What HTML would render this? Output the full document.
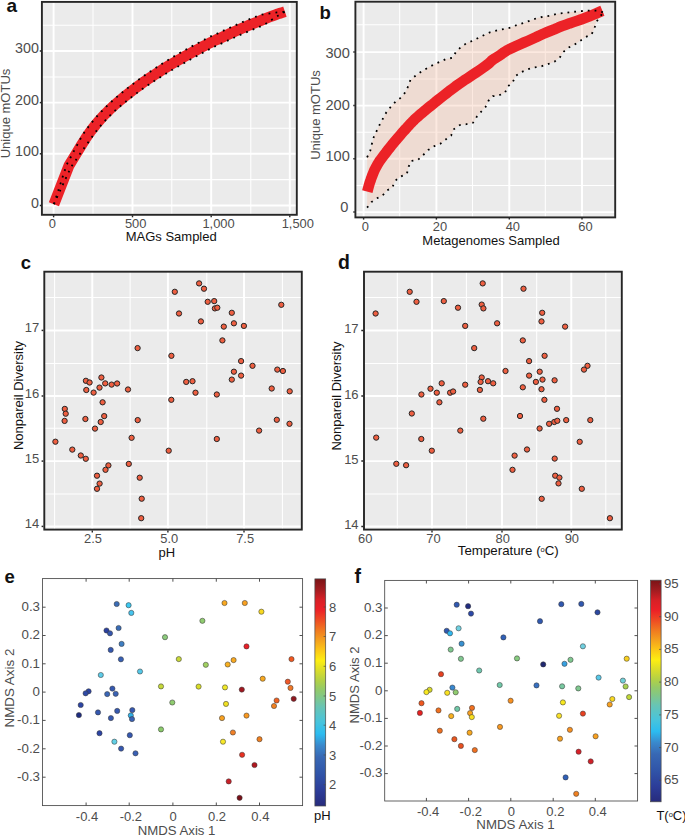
<!DOCTYPE html>
<html><head><meta charset="utf-8"><title>Figure</title>
<style>html,body{margin:0;padding:0;background:#fff;}body{width:685px;height:835px;overflow:hidden;font-family:"Liberation Sans",sans-serif;}svg{display:block;}</style>
</head><body>
<svg width="685" height="835" viewBox="0 0 685 835" font-family="Liberation Sans, sans-serif">
<rect width="685" height="835" fill="#fff"/>
<rect x="41.9" y="1.9" width="254.9" height="212.9" fill="#ebebeb"/>
<line x1="93.00" y1="1.90" x2="93.00" y2="214.80" stroke="#ffffff" stroke-width="1.05" />
<line x1="171.80" y1="1.90" x2="171.80" y2="214.80" stroke="#ffffff" stroke-width="1.05" />
<line x1="250.80" y1="1.90" x2="250.80" y2="214.80" stroke="#ffffff" stroke-width="1.05" />
<line x1="41.90" y1="179.60" x2="296.80" y2="179.60" stroke="#ffffff" stroke-width="1.05" />
<line x1="41.90" y1="128.20" x2="296.80" y2="128.20" stroke="#ffffff" stroke-width="1.05" />
<line x1="41.90" y1="77.00" x2="296.80" y2="77.00" stroke="#ffffff" stroke-width="1.05" />
<line x1="41.90" y1="25.30" x2="296.80" y2="25.30" stroke="#ffffff" stroke-width="1.05" />
<line x1="53.60" y1="1.90" x2="53.60" y2="214.80" stroke="#ffffff" stroke-width="1.95" />
<line x1="132.50" y1="1.90" x2="132.50" y2="214.80" stroke="#ffffff" stroke-width="1.95" />
<line x1="211.20" y1="1.90" x2="211.20" y2="214.80" stroke="#ffffff" stroke-width="1.95" />
<line x1="289.80" y1="1.90" x2="289.80" y2="214.80" stroke="#ffffff" stroke-width="1.95" />
<line x1="41.90" y1="205.50" x2="296.80" y2="205.50" stroke="#ffffff" stroke-width="1.95" />
<line x1="41.90" y1="153.80" x2="296.80" y2="153.80" stroke="#ffffff" stroke-width="1.95" />
<line x1="41.90" y1="102.60" x2="296.80" y2="102.60" stroke="#ffffff" stroke-width="1.95" />
<line x1="41.90" y1="51.00" x2="296.80" y2="51.00" stroke="#ffffff" stroke-width="1.95" />
<clipPath id="ca"><rect x="41.9" y="1.9" width="254.9" height="212.9"/></clipPath>
<rect x="41.9" y="1.9" width="254.9" height="212.9" fill="none" stroke="#262626" stroke-width="1.9"/>
<polyline points="53.9,204.2 68.8,165.9 70.6,162.9 73.2,158.7 76.2,153.7 79.3,148.6 82.2,143.9 84.6,140.1 86.4,137.3 87.8,135.2 89.1,133.4 90.2,131.8 91.4,130.2 92.8,128.4 94.3,126.5 95.9,124.5 97.5,122.6 99.2,120.6 100.9,118.7 102.7,116.7 104.5,114.7 106.4,112.8 108.4,110.8 110.4,108.9 112.5,106.9 114.6,105.0 116.8,103.1 119.1,101.1 121.4,99.2 123.7,97.3 126.1,95.3 128.6,93.4 131.2,91.4 133.9,89.3 136.6,87.2 139.4,85.2 141.9,83.4 144.2,81.7 146.1,80.3 147.7,79.3 149.1,78.3 150.5,77.4 152.2,76.3 154.2,75.0 156.7,73.4 159.4,71.6 162.4,69.7 165.5,67.7 168.7,65.8 171.8,63.9 174.9,62.1 178.1,60.2 181.3,58.4 184.5,56.6 187.7,54.8 191.0,53.0 194.4,51.1 198.0,49.2 201.6,47.2 205.1,45.4 208.3,43.7 211.0,42.3 213.1,41.3 214.6,40.6 215.8,40.0 216.9,39.5 218.3,39.0 220.0,38.2 222.2,37.2 224.7,36.0 227.4,34.8 230.1,33.5 232.9,32.3 235.5,31.1 238.0,30.0 240.3,29.0 242.6,28.0 245.1,26.9 247.7,25.8 250.6,24.6 254.0,23.2 257.8,21.7 261.8,20.1 265.7,18.5 269.4,17.0 272.6,15.8 275.4,14.8 277.9,13.9 280.1,13.2 282.1,12.6 283.7,12.1 284.9,11.7" fill="none" stroke="#ec2227" stroke-width="10.9" stroke-linejoin="round"/>
<polyline points="53.9,204.2 66.5,165.0 68.3,161.6 70.7,157.2 73.4,152.0 76.2,146.7 78.9,141.8 81.0,137.8 82.7,134.9 84.1,132.7 85.4,130.8 86.6,129.1 87.9,127.5 89.3,125.7 90.8,123.7 92.5,121.7 94.1,119.7 95.8,117.7 97.6,115.7 99.4,113.7 101.3,111.7 103.3,109.7 105.3,107.7 107.3,105.7 109.4,103.6 111.6,101.6 113.8,99.6 116.1,97.6 118.4,95.6 120.8,93.6 123.2,91.7 125.7,89.7 128.3,87.6 131.0,85.5 133.8,83.4 136.5,81.3 139.0,79.4 141.3,77.7 143.3,76.3 144.9,75.2 146.3,74.2 147.8,73.2 149.4,72.1 151.5,70.8 153.9,69.1 156.7,67.3 159.7,65.4 162.8,63.3 165.9,61.3 169.1,59.4 172.2,57.5 175.4,55.6 178.6,53.7 181.8,51.9 185.1,50.1 188.4,48.3 191.8,46.4 195.4,44.4 199.1,42.5 202.6,40.6 205.8,38.9 208.5,37.5 210.7,36.4 212.3,35.6 213.6,35.1 214.8,34.6 216.1,34.0 217.8,33.3 220.0,32.3 222.4,31.1 225.1,29.9 227.9,28.6 230.6,27.4 233.3,26.2 235.8,25.1 238.1,24.0 240.5,23.0 243.0,21.9 245.6,20.8 248.5,19.6 251.9,18.2 255.8,16.7 259.8,15.0 264.0,14.2 268.1,13.6 271.6,13.1 274.6,12.7 277.3,12.4 279.8,12.1 281.9,12.0 283.6,11.8 284.9,11.7" fill="none" stroke="#000" stroke-width="1.8" stroke-dasharray="1.8 5.2"/>
<polyline points="53.9,204.2 71.1,166.8 72.9,164.3 75.7,160.2 79.0,155.4 82.4,150.5 85.6,146.0 88.2,142.4 90.1,139.8 91.5,137.6 92.7,135.9 93.8,134.4 95.0,132.9 96.3,131.1 97.8,129.2 99.3,127.3 100.9,125.4 102.5,123.5 104.2,121.6 106.0,119.7 107.8,117.8 109.6,115.9 111.5,114.0 113.5,112.1 115.5,110.2 117.6,108.4 119.8,106.5 122.0,104.6 124.3,102.8 126.7,100.9 129.1,99.0 131.5,97.1 134.1,95.2 136.8,93.1 139.5,91.1 142.2,89.1 144.8,87.3 147.1,85.7 149.0,84.4 150.5,83.4 151.8,82.5 153.2,81.6 154.9,80.5 156.9,79.2 159.4,77.7 162.2,75.9 165.2,74.1 168.3,72.2 171.4,70.3 174.5,68.4 177.6,66.7 180.7,64.9 183.9,63.1 187.1,61.3 190.4,59.5 193.6,57.7 197.0,55.9 200.6,53.9 204.2,52.0 207.6,50.1 210.8,48.5 213.5,47.1 215.4,46.1 216.8,45.5 217.9,45.0 219.0,44.5 220.4,43.9 222.2,43.1 224.5,42.1 227.0,40.9 229.6,39.7 232.4,38.4 235.1,37.2 237.7,36.0 240.1,34.9 242.5,33.9 244.8,32.9 247.2,31.9 249.8,30.8 252.7,29.6 256.0,28.2 259.8,26.7 263.8,25.1 267.4,22.7 270.7,20.5 273.6,18.5 276.1,16.9 278.4,15.5 280.5,14.3 282.3,13.2 283.8,12.4 284.9,11.7" fill="none" stroke="#000" stroke-width="1.8" stroke-dasharray="1.8 5.2"/>
<text x="38.90" y="207.70" font-size="14.3" fill="#4d4d4d" text-anchor="end" font-weight="normal" >0</text>
<line x1="39.80" y1="205.50" x2="41.20" y2="205.50" stroke="#262626" stroke-width="1.5" />
<text x="38.90" y="155.80" font-size="14.3" fill="#4d4d4d" text-anchor="end" font-weight="normal" >100</text>
<line x1="39.80" y1="153.80" x2="41.20" y2="153.80" stroke="#262626" stroke-width="1.5" />
<text x="38.90" y="104.80" font-size="14.3" fill="#4d4d4d" text-anchor="end" font-weight="normal" >200</text>
<line x1="39.80" y1="102.60" x2="41.20" y2="102.60" stroke="#262626" stroke-width="1.5" />
<text x="38.90" y="52.80" font-size="14.3" fill="#4d4d4d" text-anchor="end" font-weight="normal" >300</text>
<line x1="39.80" y1="51.00" x2="41.20" y2="51.00" stroke="#262626" stroke-width="1.5" />
<text x="52.30" y="227.80" font-size="12.9" fill="#4d4d4d" text-anchor="middle" font-weight="normal" >0</text>
<text x="135.70" y="227.80" font-size="12.9" fill="#4d4d4d" text-anchor="middle" font-weight="normal" >500</text>
<text x="218.60" y="227.80" font-size="12.9" fill="#4d4d4d" text-anchor="middle" font-weight="normal" >1,000</text>
<text x="297.80" y="227.80" font-size="12.9" fill="#4d4d4d" text-anchor="middle" font-weight="normal" >1,500</text>
<line x1="53.60" y1="215.40" x2="53.60" y2="217.30" stroke="#262626" stroke-width="1.4" />
<line x1="132.50" y1="215.40" x2="132.50" y2="217.30" stroke="#262626" stroke-width="1.4" />
<line x1="211.20" y1="215.40" x2="211.20" y2="217.30" stroke="#262626" stroke-width="1.4" />
<line x1="289.80" y1="215.40" x2="289.80" y2="217.30" stroke="#262626" stroke-width="1.4" />
<text x="171.20" y="241.40" font-size="13" fill="#111" text-anchor="middle" font-weight="normal" >MAGs Sampled</text>
<text x="9.90" y="113.50" font-size="13" fill="#4d4d4d" text-anchor="middle" font-weight="normal" transform="rotate(-90 9.90 113.50)" >Unique mOTUs</text>
<text x="6.60" y="12.30" font-size="19" fill="#111" text-anchor="start" font-weight="bold" >a</text>
<rect x="355.4" y="1.7" width="259.80000000000007" height="215.70000000000002" fill="#ebebeb"/>
<line x1="399.70" y1="1.70" x2="399.70" y2="217.40" stroke="#ffffff" stroke-width="1.05" />
<line x1="472.50" y1="1.70" x2="472.50" y2="217.40" stroke="#ffffff" stroke-width="1.05" />
<line x1="545.30" y1="1.70" x2="545.30" y2="217.40" stroke="#ffffff" stroke-width="1.05" />
<line x1="355.40" y1="185.40" x2="615.20" y2="185.40" stroke="#ffffff" stroke-width="1.05" />
<line x1="355.40" y1="132.30" x2="615.20" y2="132.30" stroke="#ffffff" stroke-width="1.05" />
<line x1="355.40" y1="78.90" x2="615.20" y2="78.90" stroke="#ffffff" stroke-width="1.05" />
<line x1="355.40" y1="24.80" x2="615.20" y2="24.80" stroke="#ffffff" stroke-width="1.05" />
<line x1="363.60" y1="1.70" x2="363.60" y2="217.40" stroke="#ffffff" stroke-width="1.95" />
<line x1="436.40" y1="1.70" x2="436.40" y2="217.40" stroke="#ffffff" stroke-width="1.95" />
<line x1="509.30" y1="1.70" x2="509.30" y2="217.40" stroke="#ffffff" stroke-width="1.95" />
<line x1="582.00" y1="1.70" x2="582.00" y2="217.40" stroke="#ffffff" stroke-width="1.95" />
<line x1="355.40" y1="212.10" x2="615.20" y2="212.10" stroke="#ffffff" stroke-width="1.95" />
<line x1="355.40" y1="158.80" x2="615.20" y2="158.80" stroke="#ffffff" stroke-width="1.95" />
<line x1="355.40" y1="105.60" x2="615.20" y2="105.60" stroke="#ffffff" stroke-width="1.95" />
<line x1="355.40" y1="52.10" x2="615.20" y2="52.10" stroke="#ffffff" stroke-width="1.95" />
<clipPath id="cb"><rect x="355.4" y="1.7" width="259.80000000000007" height="215.70000000000002"/></clipPath>
<polygon points="367.1,157.3 370.3,150.7 371.8,144.2 373.7,137.2 376.5,131.3 379.5,125.0 383.0,118.5 386.2,112.6 390.8,106.8 395.5,101.7 400.0,98.4 405.1,92.6 408.0,86.7 410.5,79.7 415.8,75.5 421.6,71.4 427.4,68.0 433.3,64.8 439.7,61.9 446.0,59.0 452.6,57.8 455.9,52.0 461.0,47.0 466.9,42.9 473.0,40.7 479.0,37.5 484.8,34.7 490.0,32.3 497.2,30.4 504.2,29.0 510.9,27.5 517.5,24.7 524.2,22.8 530.8,20.3 537.4,18.0 544.1,16.5 550.7,15.6 557.4,13.7 565.0,12.9 571.6,12.0 578.3,11.4 584.9,10.8 592.5,10.4 599.1,10.8 602.9,12.3 602.9,12.3 600.1,17.1 596.3,21.8 594.4,28.5 591.5,34.5 585.8,37.0 580.2,40.8 574.5,44.6 568.8,47.4 563.1,52.2 560.2,56.9 554.5,61.7 547.9,64.1 541.2,66.4 534.6,67.4 528.0,69.3 521.3,72.1 515.6,75.9 512.8,82.0 508.0,86.4 504.8,93.0 497.6,95.8 492.7,96.2 488.6,100.6 485.4,107.2 481.0,111.8 476.9,116.6 473.0,122.8 466.4,124.2 459.9,125.0 454.0,129.1 451.1,135.6 446.0,139.3 440.4,143.7 434.4,146.1 428.2,150.0 423.1,155.1 418.1,159.8 411.1,160.9 408.7,166.6 406.9,173.8 401.0,176.4 395.2,180.7 392.4,187.4 386.9,190.5 382.3,195.9 376.8,198.3 371.4,202.1 367.1,207.6" fill="#f5bc9e" fill-opacity="0.32"/>
<rect x="355.4" y="1.7" width="259.80000000000007" height="215.70000000000002" fill="none" stroke="#262626" stroke-width="1.9"/>
<polyline points="367.3,191.6 367.6,190.5 368.0,188.9 368.5,187.1 369.0,185.2 369.5,183.5 370.0,181.9 370.6,180.3 371.1,178.7 371.7,177.1 372.3,175.5 372.9,174.0 373.5,172.5 374.1,171.0 374.8,169.4 375.6,167.9 376.5,166.3 377.4,164.7 378.4,163.0 379.4,161.4 380.5,159.8 381.6,158.3 382.7,156.8 383.8,155.3 385.0,153.8 386.2,152.3 387.4,150.7 388.6,149.2 389.9,147.6 391.1,146.0 392.4,144.4 393.7,142.8 395.0,141.3 396.3,139.8 397.6,138.2 398.9,136.7 400.2,135.2 401.6,133.6 402.9,132.1 404.3,130.5 405.7,129.0 407.1,127.4 408.5,125.9 409.9,124.3 411.4,122.8 412.9,121.2 414.5,119.6 416.2,118.1 418.0,116.5 419.7,114.9 421.5,113.4 423.2,111.9 424.9,110.6 426.6,109.2 428.4,107.7 430.5,106.0 432.9,104.1 435.4,102.0 438.2,99.8 441.0,97.6 443.8,95.4 446.6,93.2 449.5,90.9 452.5,88.7 455.5,86.4 458.4,84.3 461.3,82.3 464.2,80.3 467.2,78.4 470.1,76.5 473.0,74.6 476.1,72.5 479.3,70.3 482.5,68.1 485.3,66.1 487.6,64.4 489.2,63.2 490.1,62.2 490.8,61.5 491.5,60.8 492.5,60.0 493.8,59.1 495.2,58.2 496.8,57.2 498.4,56.2 500.0,55.2 501.5,54.1 503.0,53.0 504.6,51.9 506.5,50.7 509.0,49.3 512.2,47.8 515.9,46.1 519.9,44.3 524.0,42.5 528.0,40.8 531.8,39.1 535.6,37.4 539.3,35.6 543.1,33.9 546.9,32.3 550.7,30.7 554.5,29.2 558.3,27.6 562.1,26.1 565.9,24.7 569.7,23.3 573.6,22.0 577.4,20.7 581.2,19.4 584.9,18.0 588.8,16.5 592.8,14.8 596.7,13.2 600.0,11.8 602.4,10.8" fill="none" stroke="#ec2227" stroke-width="10.7" stroke-linejoin="round"/>
<polyline points="367.1,157.3 370.3,150.7 371.8,144.2 373.7,137.2 376.5,131.3 379.5,125.0 383.0,118.5 386.2,112.6 390.8,106.8 395.5,101.7 400.0,98.4 405.1,92.6 408.0,86.7 410.5,79.7 415.8,75.5 421.6,71.4 427.4,68.0 433.3,64.8 439.7,61.9 446.0,59.0 452.6,57.8 455.9,52.0 461.0,47.0 466.9,42.9 473.0,40.7 479.0,37.5 484.8,34.7 490.0,32.3 497.2,30.4 504.2,29.0 510.9,27.5 517.5,24.7 524.2,22.8 530.8,20.3 537.4,18.0 544.1,16.5 550.7,15.6 557.4,13.7 565.0,12.9 571.6,12.0 578.3,11.4 584.9,10.8 592.5,10.4 599.1,10.8 602.9,12.3" fill="none" stroke="#000" stroke-width="1.8" stroke-dasharray="1.8 5.0"/>
<polyline points="367.1,207.6 371.4,202.1 376.8,198.3 382.3,195.9 386.9,190.5 392.4,187.4 395.2,180.7 401.0,176.4 406.9,173.8 408.7,166.6 411.1,160.9 418.1,159.8 423.1,155.1 428.2,150.0 434.4,146.1 440.4,143.7 446.0,139.3 451.1,135.6 454.0,129.1 459.9,125.0 466.4,124.2 473.0,122.8 476.9,116.6 481.0,111.8 485.4,107.2 488.6,100.6 492.7,96.2 497.6,95.8 504.8,93.0 508.0,86.4 512.8,82.0 515.6,75.9 521.3,72.1 528.0,69.3 534.6,67.4 541.2,66.4 547.9,64.1 554.5,61.7 560.2,56.9 563.1,52.2 568.8,47.4 574.5,44.6 580.2,40.8 585.8,37.0 591.5,34.5 594.4,28.5 596.3,21.8 600.1,17.1 602.9,12.3" fill="none" stroke="#000" stroke-width="1.8" stroke-dasharray="1.8 5.0"/>
<text x="348.40" y="212.20" font-size="14.6" fill="#4d4d4d" text-anchor="end" font-weight="normal" >0</text>
<line x1="353.30" y1="212.10" x2="354.80" y2="212.10" stroke="#262626" stroke-width="1.5" />
<text x="349.80" y="160.80" font-size="14.6" fill="#4d4d4d" text-anchor="end" font-weight="normal" >100</text>
<line x1="353.30" y1="158.80" x2="354.80" y2="158.80" stroke="#262626" stroke-width="1.5" />
<text x="349.80" y="110.30" font-size="14.6" fill="#4d4d4d" text-anchor="end" font-weight="normal" >200</text>
<line x1="353.30" y1="105.60" x2="354.80" y2="105.60" stroke="#262626" stroke-width="1.5" />
<text x="349.80" y="58.40" font-size="14.6" fill="#4d4d4d" text-anchor="end" font-weight="normal" >300</text>
<line x1="353.30" y1="52.10" x2="354.80" y2="52.10" stroke="#262626" stroke-width="1.5" />
<text x="365.40" y="230.90" font-size="12.9" fill="#4d4d4d" text-anchor="middle" font-weight="normal" >0</text>
<text x="440.00" y="230.90" font-size="12.9" fill="#4d4d4d" text-anchor="middle" font-weight="normal" >20</text>
<text x="512.80" y="230.90" font-size="12.9" fill="#4d4d4d" text-anchor="middle" font-weight="normal" >40</text>
<text x="585.50" y="230.90" font-size="12.9" fill="#4d4d4d" text-anchor="middle" font-weight="normal" >60</text>
<line x1="363.60" y1="217.50" x2="363.60" y2="219.60" stroke="#262626" stroke-width="1.4" />
<line x1="436.40" y1="217.50" x2="436.40" y2="219.60" stroke="#262626" stroke-width="1.4" />
<line x1="509.30" y1="217.50" x2="509.30" y2="219.60" stroke="#262626" stroke-width="1.4" />
<line x1="582.00" y1="217.50" x2="582.00" y2="219.60" stroke="#262626" stroke-width="1.4" />
<text x="491.00" y="245.40" font-size="13" fill="#111" text-anchor="middle" font-weight="normal" >Metagenomes Sampled</text>
<text x="320.30" y="115.00" font-size="13" fill="#4d4d4d" text-anchor="middle" font-weight="normal" transform="rotate(-90 320.30 115.00)" >Unique mOTUs</text>
<text x="319.60" y="18.70" font-size="18.5" fill="#111" text-anchor="start" font-weight="bold" >b</text>
<rect x="44.3" y="271.7" width="257.5" height="257.90000000000003" fill="#ebebeb"/>
<line x1="54.60" y1="271.70" x2="54.60" y2="529.60" stroke="#ffffff" stroke-width="1.05" />
<line x1="130.10" y1="271.70" x2="130.10" y2="529.60" stroke="#ffffff" stroke-width="1.05" />
<line x1="206.80" y1="271.70" x2="206.80" y2="529.60" stroke="#ffffff" stroke-width="1.05" />
<line x1="282.40" y1="271.70" x2="282.40" y2="529.60" stroke="#ffffff" stroke-width="1.05" />
<line x1="44.30" y1="493.90" x2="301.80" y2="493.90" stroke="#ffffff" stroke-width="1.05" />
<line x1="44.30" y1="428.30" x2="301.80" y2="428.30" stroke="#ffffff" stroke-width="1.05" />
<line x1="44.30" y1="363.40" x2="301.80" y2="363.40" stroke="#ffffff" stroke-width="1.05" />
<line x1="44.30" y1="297.50" x2="301.80" y2="297.50" stroke="#ffffff" stroke-width="1.05" />
<line x1="92.30" y1="271.70" x2="92.30" y2="529.60" stroke="#ffffff" stroke-width="1.95" />
<line x1="167.90" y1="271.70" x2="167.90" y2="529.60" stroke="#ffffff" stroke-width="1.95" />
<line x1="244.00" y1="271.70" x2="244.00" y2="529.60" stroke="#ffffff" stroke-width="1.95" />
<line x1="44.30" y1="526.40" x2="301.80" y2="526.40" stroke="#ffffff" stroke-width="1.95" />
<line x1="44.30" y1="461.10" x2="301.80" y2="461.10" stroke="#ffffff" stroke-width="1.95" />
<line x1="44.30" y1="396.00" x2="301.80" y2="396.00" stroke="#ffffff" stroke-width="1.95" />
<line x1="44.30" y1="330.40" x2="301.80" y2="330.40" stroke="#ffffff" stroke-width="1.95" />
<clipPath id="cc"><rect x="44.3" y="271.7" width="257.5" height="257.90000000000003"/></clipPath>
<rect x="44.3" y="271.7" width="257.5" height="257.90000000000003" fill="none" stroke="#262626" stroke-width="1.9"/>
<circle cx="137.6" cy="348.1" r="2.65" fill="#ee5f41" stroke="#262626" stroke-width="1.0"/>
<circle cx="171.4" cy="355.8" r="2.65" fill="#ee5f41" stroke="#262626" stroke-width="1.0"/>
<circle cx="85.9" cy="380.8" r="2.65" fill="#ee5f41" stroke="#262626" stroke-width="1.0"/>
<circle cx="89.6" cy="382.5" r="2.65" fill="#ee5f41" stroke="#262626" stroke-width="1.0"/>
<circle cx="101.4" cy="377.5" r="2.65" fill="#ee5f41" stroke="#262626" stroke-width="1.0"/>
<circle cx="105.2" cy="383.4" r="2.65" fill="#ee5f41" stroke="#262626" stroke-width="1.0"/>
<circle cx="111.6" cy="384.6" r="2.65" fill="#ee5f41" stroke="#262626" stroke-width="1.0"/>
<circle cx="117.1" cy="383.5" r="2.65" fill="#ee5f41" stroke="#262626" stroke-width="1.0"/>
<circle cx="99.5" cy="387.6" r="2.65" fill="#ee5f41" stroke="#262626" stroke-width="1.0"/>
<circle cx="86.3" cy="390.0" r="2.65" fill="#ee5f41" stroke="#262626" stroke-width="1.0"/>
<circle cx="93.6" cy="392.6" r="2.65" fill="#ee5f41" stroke="#262626" stroke-width="1.0"/>
<circle cx="128.0" cy="389.5" r="2.65" fill="#ee5f41" stroke="#262626" stroke-width="1.0"/>
<circle cx="171.3" cy="399.8" r="2.65" fill="#ee5f41" stroke="#262626" stroke-width="1.0"/>
<circle cx="102.6" cy="402.3" r="2.65" fill="#ee5f41" stroke="#262626" stroke-width="1.0"/>
<circle cx="64.8" cy="408.9" r="2.65" fill="#ee5f41" stroke="#262626" stroke-width="1.0"/>
<circle cx="65.7" cy="413.7" r="2.65" fill="#ee5f41" stroke="#262626" stroke-width="1.0"/>
<circle cx="64.6" cy="420.9" r="2.65" fill="#ee5f41" stroke="#262626" stroke-width="1.0"/>
<circle cx="85.4" cy="419.0" r="2.65" fill="#ee5f41" stroke="#262626" stroke-width="1.0"/>
<circle cx="104.2" cy="416.1" r="2.65" fill="#ee5f41" stroke="#262626" stroke-width="1.0"/>
<circle cx="100.7" cy="422.0" r="2.65" fill="#ee5f41" stroke="#262626" stroke-width="1.0"/>
<circle cx="95.0" cy="428.6" r="2.65" fill="#ee5f41" stroke="#262626" stroke-width="1.0"/>
<circle cx="137.7" cy="420.1" r="2.65" fill="#ee5f41" stroke="#262626" stroke-width="1.0"/>
<circle cx="131.6" cy="437.8" r="2.65" fill="#ee5f41" stroke="#262626" stroke-width="1.0"/>
<circle cx="55.4" cy="441.7" r="2.65" fill="#ee5f41" stroke="#262626" stroke-width="1.0"/>
<circle cx="72.3" cy="449.6" r="2.65" fill="#ee5f41" stroke="#262626" stroke-width="1.0"/>
<circle cx="80.8" cy="455.5" r="2.65" fill="#ee5f41" stroke="#262626" stroke-width="1.0"/>
<circle cx="85.8" cy="458.8" r="2.65" fill="#ee5f41" stroke="#262626" stroke-width="1.0"/>
<circle cx="168.7" cy="450.7" r="2.65" fill="#ee5f41" stroke="#262626" stroke-width="1.0"/>
<circle cx="128.8" cy="463.9" r="2.65" fill="#ee5f41" stroke="#262626" stroke-width="1.0"/>
<circle cx="108.4" cy="465.4" r="2.65" fill="#ee5f41" stroke="#262626" stroke-width="1.0"/>
<circle cx="105.5" cy="469.8" r="2.65" fill="#ee5f41" stroke="#262626" stroke-width="1.0"/>
<circle cx="97.0" cy="475.7" r="2.65" fill="#ee5f41" stroke="#262626" stroke-width="1.0"/>
<circle cx="99.6" cy="483.6" r="2.65" fill="#ee5f41" stroke="#262626" stroke-width="1.0"/>
<circle cx="97.0" cy="488.8" r="2.65" fill="#ee5f41" stroke="#262626" stroke-width="1.0"/>
<circle cx="139.7" cy="477.7" r="2.65" fill="#ee5f41" stroke="#262626" stroke-width="1.0"/>
<circle cx="141.7" cy="498.7" r="2.65" fill="#ee5f41" stroke="#262626" stroke-width="1.0"/>
<circle cx="141.2" cy="518.2" r="2.65" fill="#ee5f41" stroke="#262626" stroke-width="1.0"/>
<circle cx="199.1" cy="283.4" r="2.65" fill="#ee5f41" stroke="#262626" stroke-width="1.0"/>
<circle cx="204.0" cy="288.7" r="2.65" fill="#ee5f41" stroke="#262626" stroke-width="1.0"/>
<circle cx="174.8" cy="291.8" r="2.65" fill="#ee5f41" stroke="#262626" stroke-width="1.0"/>
<circle cx="207.7" cy="301.8" r="2.65" fill="#ee5f41" stroke="#262626" stroke-width="1.0"/>
<circle cx="214.2" cy="301.1" r="2.65" fill="#ee5f41" stroke="#262626" stroke-width="1.0"/>
<circle cx="214.9" cy="308.4" r="2.65" fill="#ee5f41" stroke="#262626" stroke-width="1.0"/>
<circle cx="217.3" cy="307.7" r="2.65" fill="#ee5f41" stroke="#262626" stroke-width="1.0"/>
<circle cx="281.3" cy="304.8" r="2.65" fill="#ee5f41" stroke="#262626" stroke-width="1.0"/>
<circle cx="179.0" cy="313.5" r="2.65" fill="#ee5f41" stroke="#262626" stroke-width="1.0"/>
<circle cx="231.8" cy="312.8" r="2.65" fill="#ee5f41" stroke="#262626" stroke-width="1.0"/>
<circle cx="200.9" cy="321.4" r="2.65" fill="#ee5f41" stroke="#262626" stroke-width="1.0"/>
<circle cx="233.9" cy="323.3" r="2.65" fill="#ee5f41" stroke="#262626" stroke-width="1.0"/>
<circle cx="223.8" cy="326.6" r="2.65" fill="#ee5f41" stroke="#262626" stroke-width="1.0"/>
<circle cx="243.9" cy="325.9" r="2.65" fill="#ee5f41" stroke="#262626" stroke-width="1.0"/>
<circle cx="222.4" cy="340.4" r="2.65" fill="#ee5f41" stroke="#262626" stroke-width="1.0"/>
<circle cx="241.1" cy="361.1" r="2.65" fill="#ee5f41" stroke="#262626" stroke-width="1.0"/>
<circle cx="252.5" cy="365.8" r="2.65" fill="#ee5f41" stroke="#262626" stroke-width="1.0"/>
<circle cx="277.3" cy="369.6" r="2.65" fill="#ee5f41" stroke="#262626" stroke-width="1.0"/>
<circle cx="282.9" cy="371.0" r="2.65" fill="#ee5f41" stroke="#262626" stroke-width="1.0"/>
<circle cx="233.9" cy="371.7" r="2.65" fill="#ee5f41" stroke="#262626" stroke-width="1.0"/>
<circle cx="241.1" cy="375.6" r="2.65" fill="#ee5f41" stroke="#262626" stroke-width="1.0"/>
<circle cx="231.8" cy="379.6" r="2.65" fill="#ee5f41" stroke="#262626" stroke-width="1.0"/>
<circle cx="186.2" cy="381.9" r="2.65" fill="#ee5f41" stroke="#262626" stroke-width="1.0"/>
<circle cx="192.5" cy="381.2" r="2.65" fill="#ee5f41" stroke="#262626" stroke-width="1.0"/>
<circle cx="271.7" cy="388.5" r="2.65" fill="#ee5f41" stroke="#262626" stroke-width="1.0"/>
<circle cx="289.7" cy="391.3" r="2.65" fill="#ee5f41" stroke="#262626" stroke-width="1.0"/>
<circle cx="195.5" cy="392.7" r="2.65" fill="#ee5f41" stroke="#262626" stroke-width="1.0"/>
<circle cx="216.8" cy="394.5" r="2.65" fill="#ee5f41" stroke="#262626" stroke-width="1.0"/>
<circle cx="276.8" cy="419.8" r="2.65" fill="#ee5f41" stroke="#262626" stroke-width="1.0"/>
<circle cx="289.5" cy="423.8" r="2.65" fill="#ee5f41" stroke="#262626" stroke-width="1.0"/>
<circle cx="259.1" cy="430.6" r="2.65" fill="#ee5f41" stroke="#262626" stroke-width="1.0"/>
<circle cx="216.8" cy="439.0" r="2.65" fill="#ee5f41" stroke="#262626" stroke-width="1.0"/>
<text x="39.20" y="528.30" font-size="13" fill="#4d4d4d" text-anchor="end" font-weight="normal" >14</text>
<line x1="41.60" y1="526.40" x2="43.30" y2="526.40" stroke="#262626" stroke-width="1.5" />
<text x="39.20" y="463.00" font-size="13" fill="#4d4d4d" text-anchor="end" font-weight="normal" >15</text>
<line x1="41.60" y1="461.10" x2="43.30" y2="461.10" stroke="#262626" stroke-width="1.5" />
<text x="39.20" y="397.90" font-size="13" fill="#4d4d4d" text-anchor="end" font-weight="normal" >16</text>
<line x1="41.60" y1="396.00" x2="43.30" y2="396.00" stroke="#262626" stroke-width="1.5" />
<text x="39.20" y="332.30" font-size="13" fill="#4d4d4d" text-anchor="end" font-weight="normal" >17</text>
<line x1="41.60" y1="330.40" x2="43.30" y2="330.40" stroke="#262626" stroke-width="1.5" />
<text x="93.00" y="543.00" font-size="12.9" fill="#4d4d4d" text-anchor="middle" font-weight="normal" >2.5</text>
<text x="169.20" y="543.00" font-size="12.9" fill="#4d4d4d" text-anchor="middle" font-weight="normal" >5.0</text>
<text x="245.10" y="543.00" font-size="12.9" fill="#4d4d4d" text-anchor="middle" font-weight="normal" >7.5</text>
<line x1="92.30" y1="530.40" x2="92.30" y2="532.40" stroke="#262626" stroke-width="1.4" />
<line x1="167.90" y1="530.40" x2="167.90" y2="532.40" stroke="#262626" stroke-width="1.4" />
<line x1="244.00" y1="530.40" x2="244.00" y2="532.40" stroke="#262626" stroke-width="1.4" />
<text x="166.80" y="556.50" font-size="13" fill="#111" text-anchor="middle" font-weight="normal" >pH</text>
<text x="23.00" y="395.50" font-size="13" fill="#111" text-anchor="middle" font-weight="normal" transform="rotate(-90 23.00 395.50)" >Nonpareil Diversity</text>
<text x="20.80" y="269.20" font-size="18.5" fill="#111" text-anchor="start" font-weight="bold" >c</text>
<rect x="364.0" y="271.7" width="257.79999999999995" height="257.90000000000003" fill="#ebebeb"/>
<line x1="397.30" y1="271.70" x2="397.30" y2="529.60" stroke="#ffffff" stroke-width="1.05" />
<line x1="466.40" y1="271.70" x2="466.40" y2="529.60" stroke="#ffffff" stroke-width="1.05" />
<line x1="536.70" y1="271.70" x2="536.70" y2="529.60" stroke="#ffffff" stroke-width="1.05" />
<line x1="605.80" y1="271.70" x2="605.80" y2="529.60" stroke="#ffffff" stroke-width="1.05" />
<line x1="364.00" y1="493.90" x2="621.80" y2="493.90" stroke="#ffffff" stroke-width="1.05" />
<line x1="364.00" y1="428.30" x2="621.80" y2="428.30" stroke="#ffffff" stroke-width="1.05" />
<line x1="364.00" y1="363.40" x2="621.80" y2="363.40" stroke="#ffffff" stroke-width="1.05" />
<line x1="364.00" y1="297.50" x2="621.80" y2="297.50" stroke="#ffffff" stroke-width="1.05" />
<line x1="432.00" y1="271.70" x2="432.00" y2="529.60" stroke="#ffffff" stroke-width="1.95" />
<line x1="502.00" y1="271.70" x2="502.00" y2="529.60" stroke="#ffffff" stroke-width="1.95" />
<line x1="571.30" y1="271.70" x2="571.30" y2="529.60" stroke="#ffffff" stroke-width="1.95" />
<line x1="364.00" y1="526.40" x2="621.80" y2="526.40" stroke="#ffffff" stroke-width="1.95" />
<line x1="364.00" y1="461.10" x2="621.80" y2="461.10" stroke="#ffffff" stroke-width="1.95" />
<line x1="364.00" y1="396.00" x2="621.80" y2="396.00" stroke="#ffffff" stroke-width="1.95" />
<line x1="364.00" y1="330.40" x2="621.80" y2="330.40" stroke="#ffffff" stroke-width="1.95" />
<clipPath id="cd"><rect x="364.0" y="271.7" width="257.79999999999995" height="257.90000000000003"/></clipPath>
<rect x="364.0" y="271.7" width="257.79999999999995" height="257.90000000000003" fill="none" stroke="#262626" stroke-width="1.9"/>
<circle cx="409.7" cy="291.8" r="2.65" fill="#ee5f41" stroke="#262626" stroke-width="1.0"/>
<circle cx="416.5" cy="301.8" r="2.65" fill="#ee5f41" stroke="#262626" stroke-width="1.0"/>
<circle cx="443.8" cy="301.1" r="2.65" fill="#ee5f41" stroke="#262626" stroke-width="1.0"/>
<circle cx="458.0" cy="307.7" r="2.65" fill="#ee5f41" stroke="#262626" stroke-width="1.0"/>
<circle cx="375.6" cy="313.5" r="2.65" fill="#ee5f41" stroke="#262626" stroke-width="1.0"/>
<circle cx="465.2" cy="325.9" r="2.65" fill="#ee5f41" stroke="#262626" stroke-width="1.0"/>
<circle cx="474.2" cy="348.1" r="2.65" fill="#ee5f41" stroke="#262626" stroke-width="1.0"/>
<circle cx="441.7" cy="383.3" r="2.65" fill="#ee5f41" stroke="#262626" stroke-width="1.0"/>
<circle cx="430.5" cy="388.7" r="2.65" fill="#ee5f41" stroke="#262626" stroke-width="1.0"/>
<circle cx="465.2" cy="384.7" r="2.65" fill="#ee5f41" stroke="#262626" stroke-width="1.0"/>
<circle cx="436.8" cy="392.7" r="2.65" fill="#ee5f41" stroke="#262626" stroke-width="1.0"/>
<circle cx="450.1" cy="392.7" r="2.65" fill="#ee5f41" stroke="#262626" stroke-width="1.0"/>
<circle cx="453.1" cy="391.5" r="2.65" fill="#ee5f41" stroke="#262626" stroke-width="1.0"/>
<circle cx="421.4" cy="394.5" r="2.65" fill="#ee5f41" stroke="#262626" stroke-width="1.0"/>
<circle cx="439.4" cy="402.3" r="2.65" fill="#ee5f41" stroke="#262626" stroke-width="1.0"/>
<circle cx="411.8" cy="413.5" r="2.65" fill="#ee5f41" stroke="#262626" stroke-width="1.0"/>
<circle cx="482.7" cy="283.4" r="2.65" fill="#ee5f41" stroke="#262626" stroke-width="1.0"/>
<circle cx="523.5" cy="288.7" r="2.65" fill="#ee5f41" stroke="#262626" stroke-width="1.0"/>
<circle cx="481.7" cy="304.6" r="2.65" fill="#ee5f41" stroke="#262626" stroke-width="1.0"/>
<circle cx="483.4" cy="308.4" r="2.65" fill="#ee5f41" stroke="#262626" stroke-width="1.0"/>
<circle cx="497.1" cy="323.3" r="2.65" fill="#ee5f41" stroke="#262626" stroke-width="1.0"/>
<circle cx="542.2" cy="312.8" r="2.65" fill="#ee5f41" stroke="#262626" stroke-width="1.0"/>
<circle cx="541.5" cy="321.4" r="2.65" fill="#ee5f41" stroke="#262626" stroke-width="1.0"/>
<circle cx="565.1" cy="326.6" r="2.65" fill="#ee5f41" stroke="#262626" stroke-width="1.0"/>
<circle cx="522.8" cy="340.4" r="2.65" fill="#ee5f41" stroke="#262626" stroke-width="1.0"/>
<circle cx="544.6" cy="355.8" r="2.65" fill="#ee5f41" stroke="#262626" stroke-width="1.0"/>
<circle cx="529.1" cy="361.1" r="2.65" fill="#ee5f41" stroke="#262626" stroke-width="1.0"/>
<circle cx="587.5" cy="365.8" r="2.65" fill="#ee5f41" stroke="#262626" stroke-width="1.0"/>
<circle cx="584.0" cy="369.6" r="2.65" fill="#ee5f41" stroke="#262626" stroke-width="1.0"/>
<circle cx="505.5" cy="371.0" r="2.65" fill="#ee5f41" stroke="#262626" stroke-width="1.0"/>
<circle cx="539.7" cy="371.7" r="2.65" fill="#ee5f41" stroke="#262626" stroke-width="1.0"/>
<circle cx="529.1" cy="375.6" r="2.65" fill="#ee5f41" stroke="#262626" stroke-width="1.0"/>
<circle cx="542.5" cy="379.6" r="2.65" fill="#ee5f41" stroke="#262626" stroke-width="1.0"/>
<circle cx="554.6" cy="380.3" r="2.65" fill="#ee5f41" stroke="#262626" stroke-width="1.0"/>
<circle cx="535.9" cy="381.9" r="2.65" fill="#ee5f41" stroke="#262626" stroke-width="1.0"/>
<circle cx="481.7" cy="377.5" r="2.65" fill="#ee5f41" stroke="#262626" stroke-width="1.0"/>
<circle cx="480.6" cy="381.9" r="2.65" fill="#ee5f41" stroke="#262626" stroke-width="1.0"/>
<circle cx="488.0" cy="381.2" r="2.65" fill="#ee5f41" stroke="#262626" stroke-width="1.0"/>
<circle cx="493.2" cy="383.3" r="2.65" fill="#ee5f41" stroke="#262626" stroke-width="1.0"/>
<circle cx="479.9" cy="389.9" r="2.65" fill="#ee5f41" stroke="#262626" stroke-width="1.0"/>
<circle cx="522.8" cy="387.3" r="2.65" fill="#ee5f41" stroke="#262626" stroke-width="1.0"/>
<circle cx="541.5" cy="389.2" r="2.65" fill="#ee5f41" stroke="#262626" stroke-width="1.0"/>
<circle cx="544.4" cy="399.8" r="2.65" fill="#ee5f41" stroke="#262626" stroke-width="1.0"/>
<circle cx="557.0" cy="408.8" r="2.65" fill="#ee5f41" stroke="#262626" stroke-width="1.0"/>
<circle cx="520.0" cy="416.0" r="2.65" fill="#ee5f41" stroke="#262626" stroke-width="1.0"/>
<circle cx="483.3" cy="418.7" r="2.65" fill="#ee5f41" stroke="#262626" stroke-width="1.0"/>
<circle cx="376.2" cy="437.6" r="2.65" fill="#ee5f41" stroke="#262626" stroke-width="1.0"/>
<circle cx="421.3" cy="439.0" r="2.65" fill="#ee5f41" stroke="#262626" stroke-width="1.0"/>
<circle cx="460.3" cy="430.6" r="2.65" fill="#ee5f41" stroke="#262626" stroke-width="1.0"/>
<circle cx="431.8" cy="450.7" r="2.65" fill="#ee5f41" stroke="#262626" stroke-width="1.0"/>
<circle cx="396.3" cy="463.8" r="2.65" fill="#ee5f41" stroke="#262626" stroke-width="1.0"/>
<circle cx="406.1" cy="465.2" r="2.65" fill="#ee5f41" stroke="#262626" stroke-width="1.0"/>
<circle cx="549.1" cy="423.8" r="2.65" fill="#ee5f41" stroke="#262626" stroke-width="1.0"/>
<circle cx="554.3" cy="422.0" r="2.65" fill="#ee5f41" stroke="#262626" stroke-width="1.0"/>
<circle cx="557.3" cy="420.8" r="2.65" fill="#ee5f41" stroke="#262626" stroke-width="1.0"/>
<circle cx="566.2" cy="420.1" r="2.65" fill="#ee5f41" stroke="#262626" stroke-width="1.0"/>
<circle cx="590.3" cy="420.1" r="2.65" fill="#ee5f41" stroke="#262626" stroke-width="1.0"/>
<circle cx="539.6" cy="428.5" r="2.65" fill="#ee5f41" stroke="#262626" stroke-width="1.0"/>
<circle cx="579.7" cy="441.8" r="2.65" fill="#ee5f41" stroke="#262626" stroke-width="1.0"/>
<circle cx="527.0" cy="449.5" r="2.65" fill="#ee5f41" stroke="#262626" stroke-width="1.0"/>
<circle cx="514.6" cy="455.6" r="2.65" fill="#ee5f41" stroke="#262626" stroke-width="1.0"/>
<circle cx="554.7" cy="458.6" r="2.65" fill="#ee5f41" stroke="#262626" stroke-width="1.0"/>
<circle cx="512.5" cy="469.8" r="2.65" fill="#ee5f41" stroke="#262626" stroke-width="1.0"/>
<circle cx="555.2" cy="475.7" r="2.65" fill="#ee5f41" stroke="#262626" stroke-width="1.0"/>
<circle cx="559.4" cy="477.6" r="2.65" fill="#ee5f41" stroke="#262626" stroke-width="1.0"/>
<circle cx="558.5" cy="483.4" r="2.65" fill="#ee5f41" stroke="#262626" stroke-width="1.0"/>
<circle cx="581.8" cy="488.8" r="2.65" fill="#ee5f41" stroke="#262626" stroke-width="1.0"/>
<circle cx="541.7" cy="498.8" r="2.65" fill="#ee5f41" stroke="#262626" stroke-width="1.0"/>
<circle cx="609.9" cy="518.2" r="2.65" fill="#ee5f41" stroke="#262626" stroke-width="1.0"/>
<text x="358.60" y="529.00" font-size="13" fill="#4d4d4d" text-anchor="end" font-weight="normal" >14</text>
<line x1="361.30" y1="526.40" x2="363.00" y2="526.40" stroke="#262626" stroke-width="1.5" />
<text x="358.60" y="463.70" font-size="13" fill="#4d4d4d" text-anchor="end" font-weight="normal" >15</text>
<line x1="361.30" y1="461.10" x2="363.00" y2="461.10" stroke="#262626" stroke-width="1.5" />
<text x="358.60" y="398.60" font-size="13" fill="#4d4d4d" text-anchor="end" font-weight="normal" >16</text>
<line x1="361.30" y1="396.00" x2="363.00" y2="396.00" stroke="#262626" stroke-width="1.5" />
<text x="358.60" y="333.00" font-size="13" fill="#4d4d4d" text-anchor="end" font-weight="normal" >17</text>
<line x1="361.30" y1="330.40" x2="363.00" y2="330.40" stroke="#262626" stroke-width="1.5" />
<text x="365.20" y="542.90" font-size="12.9" fill="#4d4d4d" text-anchor="middle" font-weight="normal" >60</text>
<text x="433.40" y="542.90" font-size="12.9" fill="#4d4d4d" text-anchor="middle" font-weight="normal" >70</text>
<text x="502.70" y="542.90" font-size="12.9" fill="#4d4d4d" text-anchor="middle" font-weight="normal" >80</text>
<text x="571.80" y="542.90" font-size="12.9" fill="#4d4d4d" text-anchor="middle" font-weight="normal" >90</text>
<line x1="432.00" y1="530.40" x2="432.00" y2="532.40" stroke="#262626" stroke-width="1.4" />
<line x1="502.00" y1="530.40" x2="502.00" y2="532.40" stroke="#262626" stroke-width="1.4" />
<line x1="571.30" y1="530.40" x2="571.30" y2="532.40" stroke="#262626" stroke-width="1.4" />
<text x="457.8" y="554.8" font-size="13.3" fill="#111">Temperature (<tspan font-size="7.5" dy="-3.2">o</tspan><tspan dy="3.2">C)</tspan></text>
<text x="341.40" y="396.00" font-size="13" fill="#111" text-anchor="middle" font-weight="normal" transform="rotate(-90 341.40 396.00)" >Nonpareil Diversity</text>
<text x="337.90" y="269.30" font-size="19.5" fill="#111" text-anchor="start" font-weight="bold" >d</text>
<rect x="42.5" y="578.6" width="260.1" height="227.0" fill="#fff" stroke="#484848" stroke-width="0.85"/>
<line x1="86.10" y1="578.60" x2="86.10" y2="581.70" stroke="#484848" stroke-width="0.95" />
<line x1="86.10" y1="805.60" x2="86.10" y2="802.50" stroke="#484848" stroke-width="0.95" />
<line x1="129.20" y1="578.60" x2="129.20" y2="581.70" stroke="#484848" stroke-width="0.95" />
<line x1="129.20" y1="805.60" x2="129.20" y2="802.50" stroke="#484848" stroke-width="0.95" />
<line x1="172.90" y1="578.60" x2="172.90" y2="581.70" stroke="#484848" stroke-width="0.95" />
<line x1="172.90" y1="805.60" x2="172.90" y2="802.50" stroke="#484848" stroke-width="0.95" />
<line x1="216.30" y1="578.60" x2="216.30" y2="581.70" stroke="#484848" stroke-width="0.95" />
<line x1="216.30" y1="805.60" x2="216.30" y2="802.50" stroke="#484848" stroke-width="0.95" />
<line x1="259.50" y1="578.60" x2="259.50" y2="581.70" stroke="#484848" stroke-width="0.95" />
<line x1="259.50" y1="805.60" x2="259.50" y2="802.50" stroke="#484848" stroke-width="0.95" />
<line x1="42.50" y1="607.20" x2="45.60" y2="607.20" stroke="#484848" stroke-width="0.95" />
<line x1="302.60" y1="607.20" x2="299.50" y2="607.20" stroke="#484848" stroke-width="0.95" />
<line x1="42.50" y1="635.50" x2="45.60" y2="635.50" stroke="#484848" stroke-width="0.95" />
<line x1="302.60" y1="635.50" x2="299.50" y2="635.50" stroke="#484848" stroke-width="0.95" />
<line x1="42.50" y1="663.80" x2="45.60" y2="663.80" stroke="#484848" stroke-width="0.95" />
<line x1="302.60" y1="663.80" x2="299.50" y2="663.80" stroke="#484848" stroke-width="0.95" />
<line x1="42.50" y1="692.10" x2="45.60" y2="692.10" stroke="#484848" stroke-width="0.95" />
<line x1="302.60" y1="692.10" x2="299.50" y2="692.10" stroke="#484848" stroke-width="0.95" />
<line x1="42.50" y1="720.40" x2="45.60" y2="720.40" stroke="#484848" stroke-width="0.95" />
<line x1="302.60" y1="720.40" x2="299.50" y2="720.40" stroke="#484848" stroke-width="0.95" />
<line x1="42.50" y1="748.80" x2="45.60" y2="748.80" stroke="#484848" stroke-width="0.95" />
<line x1="302.60" y1="748.80" x2="299.50" y2="748.80" stroke="#484848" stroke-width="0.95" />
<line x1="42.50" y1="777.20" x2="45.60" y2="777.20" stroke="#484848" stroke-width="0.95" />
<line x1="302.60" y1="777.20" x2="299.50" y2="777.20" stroke="#484848" stroke-width="0.95" />
<circle cx="116.7" cy="604.0" r="2.6" fill="#3a6cb5" stroke="#3a3a3a" stroke-width="0.55"/>
<circle cx="128.6" cy="605.2" r="2.6" fill="#3dc8f0" stroke="#3a3a3a" stroke-width="0.55"/>
<circle cx="131.3" cy="612.9" r="2.6" fill="#45c4ee" stroke="#3a3a3a" stroke-width="0.55"/>
<circle cx="106.5" cy="630.5" r="2.6" fill="#2a3f9f" stroke="#3a3a3a" stroke-width="0.55"/>
<circle cx="110.0" cy="633.3" r="2.6" fill="#3556ae" stroke="#3a3a3a" stroke-width="0.55"/>
<circle cx="118.6" cy="628.0" r="2.6" fill="#3a6cb5" stroke="#3a3a3a" stroke-width="0.55"/>
<circle cx="165.0" cy="637.2" r="2.6" fill="#8ccb7c" stroke="#3a3a3a" stroke-width="0.55"/>
<circle cx="121.6" cy="643.9" r="2.6" fill="#3e7ec2" stroke="#3a3a3a" stroke-width="0.55"/>
<circle cx="110.7" cy="649.9" r="2.6" fill="#3558b0" stroke="#3a3a3a" stroke-width="0.55"/>
<circle cx="120.9" cy="659.3" r="2.6" fill="#3860b4" stroke="#3a3a3a" stroke-width="0.55"/>
<circle cx="140.0" cy="671.5" r="2.6" fill="#54c8e8" stroke="#3a3a3a" stroke-width="0.55"/>
<circle cx="100.8" cy="675.0" r="2.6" fill="#5ccbe8" stroke="#3a3a3a" stroke-width="0.55"/>
<circle cx="161.0" cy="686.4" r="2.6" fill="#c6d83a" stroke="#3a3a3a" stroke-width="0.55"/>
<circle cx="112.4" cy="688.6" r="2.6" fill="#3558b0" stroke="#3a3a3a" stroke-width="0.55"/>
<circle cx="88.6" cy="691.3" r="2.6" fill="#2c44a4" stroke="#3a3a3a" stroke-width="0.55"/>
<circle cx="85.6" cy="693.3" r="2.6" fill="#2f4aa6" stroke="#3a3a3a" stroke-width="0.55"/>
<circle cx="107.2" cy="694.1" r="2.6" fill="#3a66b6" stroke="#3a3a3a" stroke-width="0.55"/>
<circle cx="115.7" cy="693.8" r="2.6" fill="#3a62b4" stroke="#3a3a3a" stroke-width="0.55"/>
<circle cx="80.7" cy="705.0" r="2.6" fill="#2c44a4" stroke="#3a3a3a" stroke-width="0.55"/>
<circle cx="78.9" cy="715.1" r="2.6" fill="#1e2c80" stroke="#3a3a3a" stroke-width="0.55"/>
<circle cx="98.0" cy="712.4" r="2.6" fill="#3558b0" stroke="#3a3a3a" stroke-width="0.55"/>
<circle cx="117.2" cy="710.9" r="2.6" fill="#3558b0" stroke="#3a3a3a" stroke-width="0.55"/>
<circle cx="132.3" cy="710.1" r="2.6" fill="#3558b0" stroke="#3a3a3a" stroke-width="0.55"/>
<circle cx="130.8" cy="715.4" r="2.6" fill="#30b0e8" stroke="#3a3a3a" stroke-width="0.55"/>
<circle cx="132.0" cy="719.1" r="2.6" fill="#3a62b4" stroke="#3a3a3a" stroke-width="0.55"/>
<circle cx="110.9" cy="718.1" r="2.6" fill="#3558b0" stroke="#3a3a3a" stroke-width="0.55"/>
<circle cx="161.0" cy="729.4" r="2.6" fill="#8ccb6c" stroke="#3a3a3a" stroke-width="0.55"/>
<circle cx="99.5" cy="733.2" r="2.6" fill="#2c44a4" stroke="#3a3a3a" stroke-width="0.55"/>
<circle cx="129.8" cy="735.2" r="2.6" fill="#3558b0" stroke="#3a3a3a" stroke-width="0.55"/>
<circle cx="114.4" cy="741.7" r="2.6" fill="#62d0e6" stroke="#3a3a3a" stroke-width="0.55"/>
<circle cx="121.1" cy="748.6" r="2.6" fill="#3558b0" stroke="#3a3a3a" stroke-width="0.55"/>
<circle cx="135.5" cy="753.3" r="2.6" fill="#3a60b4" stroke="#3a3a3a" stroke-width="0.55"/>
<circle cx="224.5" cy="603.0" r="2.6" fill="#f8a820" stroke="#3a3a3a" stroke-width="0.55"/>
<circle cx="244.8" cy="603.0" r="2.6" fill="#f8a020" stroke="#3a3a3a" stroke-width="0.55"/>
<circle cx="261.4" cy="611.7" r="2.6" fill="#f8d820" stroke="#3a3a3a" stroke-width="0.55"/>
<circle cx="202.4" cy="620.8" r="2.6" fill="#90cc70" stroke="#3a3a3a" stroke-width="0.55"/>
<circle cx="246.5" cy="646.4" r="2.6" fill="#e82028" stroke="#3a3a3a" stroke-width="0.55"/>
<circle cx="291.5" cy="659.1" r="2.6" fill="#f05820" stroke="#3a3a3a" stroke-width="0.55"/>
<circle cx="178.8" cy="659.1" r="2.6" fill="#c8d838" stroke="#3a3a3a" stroke-width="0.55"/>
<circle cx="233.6" cy="660.1" r="2.6" fill="#f8a820" stroke="#3a3a3a" stroke-width="0.55"/>
<circle cx="227.7" cy="664.5" r="2.6" fill="#f8b020" stroke="#3a3a3a" stroke-width="0.55"/>
<circle cx="205.8" cy="664.8" r="2.6" fill="#a0d060" stroke="#3a3a3a" stroke-width="0.55"/>
<circle cx="262.7" cy="678.7" r="2.6" fill="#f8a820" stroke="#3a3a3a" stroke-width="0.55"/>
<circle cx="287.8" cy="681.7" r="2.6" fill="#f05828" stroke="#3a3a3a" stroke-width="0.55"/>
<circle cx="290.5" cy="687.9" r="2.6" fill="#f07828" stroke="#3a3a3a" stroke-width="0.55"/>
<circle cx="198.6" cy="686.6" r="2.6" fill="#d8dc28" stroke="#3a3a3a" stroke-width="0.55"/>
<circle cx="225.0" cy="687.4" r="2.6" fill="#f0e828" stroke="#3a3a3a" stroke-width="0.55"/>
<circle cx="241.8" cy="689.6" r="2.6" fill="#a01820" stroke="#3a3a3a" stroke-width="0.55"/>
<circle cx="293.7" cy="698.8" r="2.6" fill="#901820" stroke="#3a3a3a" stroke-width="0.55"/>
<circle cx="276.6" cy="700.5" r="2.6" fill="#f06020" stroke="#3a3a3a" stroke-width="0.55"/>
<circle cx="172.3" cy="702.5" r="2.6" fill="#90cc70" stroke="#3a3a3a" stroke-width="0.55"/>
<circle cx="226.0" cy="703.9" r="2.6" fill="#f0e020" stroke="#3a3a3a" stroke-width="0.55"/>
<circle cx="274.0" cy="706.0" r="2.6" fill="#f08020" stroke="#3a3a3a" stroke-width="0.55"/>
<circle cx="246.5" cy="715.6" r="2.6" fill="#f89820" stroke="#3a3a3a" stroke-width="0.55"/>
<circle cx="222.0" cy="718.1" r="2.6" fill="#f8a020" stroke="#3a3a3a" stroke-width="0.55"/>
<circle cx="232.9" cy="732.5" r="2.6" fill="#f08028" stroke="#3a3a3a" stroke-width="0.55"/>
<circle cx="259.5" cy="739.2" r="2.6" fill="#f08020" stroke="#3a3a3a" stroke-width="0.55"/>
<circle cx="223.0" cy="741.7" r="2.6" fill="#f8e828" stroke="#3a3a3a" stroke-width="0.55"/>
<circle cx="242.1" cy="754.8" r="2.6" fill="#e83020" stroke="#3a3a3a" stroke-width="0.55"/>
<circle cx="254.5" cy="765.0" r="2.6" fill="#b01820" stroke="#3a3a3a" stroke-width="0.55"/>
<circle cx="228.7" cy="781.4" r="2.6" fill="#c82028" stroke="#3a3a3a" stroke-width="0.55"/>
<circle cx="239.6" cy="797.8" r="2.6" fill="#781018" stroke="#3a3a3a" stroke-width="0.55"/>
<text x="40.00" y="611.00" font-size="13.3" fill="#4d4d4d" text-anchor="end" font-weight="normal" >0.3</text>
<text x="40.00" y="639.30" font-size="13.3" fill="#4d4d4d" text-anchor="end" font-weight="normal" >0.2</text>
<text x="40.00" y="667.60" font-size="13.3" fill="#4d4d4d" text-anchor="end" font-weight="normal" >0.1</text>
<text x="40.00" y="695.90" font-size="13.3" fill="#4d4d4d" text-anchor="end" font-weight="normal" >0</text>
<text x="40.00" y="724.20" font-size="13.3" fill="#4d4d4d" text-anchor="end" font-weight="normal" >-0.1</text>
<text x="40.00" y="752.60" font-size="13.3" fill="#4d4d4d" text-anchor="end" font-weight="normal" >-0.2</text>
<text x="40.00" y="781.00" font-size="13.3" fill="#4d4d4d" text-anchor="end" font-weight="normal" >-0.3</text>
<text x="87.00" y="820.70" font-size="13.0" fill="#4d4d4d" text-anchor="middle" font-weight="normal" >-0.4</text>
<text x="130.90" y="820.70" font-size="13.0" fill="#4d4d4d" text-anchor="middle" font-weight="normal" >-0.2</text>
<text x="173.00" y="820.70" font-size="13.0" fill="#4d4d4d" text-anchor="middle" font-weight="normal" >0</text>
<text x="217.00" y="820.70" font-size="13.0" fill="#4d4d4d" text-anchor="middle" font-weight="normal" >0.2</text>
<text x="260.40" y="820.70" font-size="13.0" fill="#4d4d4d" text-anchor="middle" font-weight="normal" >0.4</text>
<text x="176.60" y="835.00" font-size="13.2" fill="#4d4d4d" text-anchor="middle" font-weight="normal" >NMDS Axis 1</text>
<text x="14.00" y="688.10" font-size="13.4" fill="#4d4d4d" text-anchor="middle" font-weight="normal" transform="rotate(-90 14.00 688.10)" >NMDS Axis 2</text>
<text x="4.50" y="582.80" font-size="18.5" fill="#111" text-anchor="start" font-weight="bold" >e</text>
<linearGradient id="ge" x1="0" y1="1" x2="0" y2="0">
<stop offset="0.000" stop-color="#272b7c"/>
<stop offset="0.067" stop-color="#2c3c98"/>
<stop offset="0.140" stop-color="#3054a8"/>
<stop offset="0.215" stop-color="#3868b4"/>
<stop offset="0.266" stop-color="#3a88cc"/>
<stop offset="0.318" stop-color="#2cbcf0"/>
<stop offset="0.370" stop-color="#48c4dc"/>
<stop offset="0.436" stop-color="#68c4b4"/>
<stop offset="0.488" stop-color="#86c880"/>
<stop offset="0.515" stop-color="#94ca68"/>
<stop offset="0.550" stop-color="#b0d048"/>
<stop offset="0.595" stop-color="#d8dc2c"/>
<stop offset="0.640" stop-color="#fdee12"/>
<stop offset="0.685" stop-color="#fcc816"/>
<stop offset="0.730" stop-color="#f4a01e"/>
<stop offset="0.775" stop-color="#f07820"/>
<stop offset="0.820" stop-color="#ee4a23"/>
<stop offset="0.865" stop-color="#ec2027"/>
<stop offset="0.910" stop-color="#d62026"/>
<stop offset="0.955" stop-color="#a01c20"/>
<stop offset="1.000" stop-color="#7a1416"/>
</linearGradient>
<rect x="314.9" y="578.9" width="10.800000000000011" height="227.10000000000002" fill="url(#ge)" stroke="#4a4a4a" stroke-width="0.7"/>
<line x1="325.70" y1="607.00" x2="323.60" y2="607.00" stroke="#4a4a4a" stroke-width="0.7" />
<text x="328.90" y="611.60" font-size="13" fill="#4d4d4d" text-anchor="start" font-weight="normal" >8</text>
<line x1="325.70" y1="636.50" x2="323.60" y2="636.50" stroke="#4a4a4a" stroke-width="0.7" />
<text x="328.90" y="641.10" font-size="13" fill="#4d4d4d" text-anchor="start" font-weight="normal" >7</text>
<line x1="325.70" y1="666.30" x2="323.60" y2="666.30" stroke="#4a4a4a" stroke-width="0.7" />
<text x="328.90" y="670.90" font-size="13" fill="#4d4d4d" text-anchor="start" font-weight="normal" >6</text>
<line x1="325.70" y1="696.00" x2="323.60" y2="696.00" stroke="#4a4a4a" stroke-width="0.7" />
<text x="328.90" y="700.60" font-size="13" fill="#4d4d4d" text-anchor="start" font-weight="normal" >5</text>
<line x1="325.70" y1="725.20" x2="323.60" y2="725.20" stroke="#4a4a4a" stroke-width="0.7" />
<text x="328.90" y="729.80" font-size="13" fill="#4d4d4d" text-anchor="start" font-weight="normal" >4</text>
<line x1="325.70" y1="755.00" x2="323.60" y2="755.00" stroke="#4a4a4a" stroke-width="0.7" />
<text x="328.90" y="759.60" font-size="13" fill="#4d4d4d" text-anchor="start" font-weight="normal" >3</text>
<line x1="325.70" y1="784.70" x2="323.60" y2="784.70" stroke="#4a4a4a" stroke-width="0.7" />
<text x="328.90" y="789.30" font-size="13" fill="#4d4d4d" text-anchor="start" font-weight="normal" >2</text>
<text x="322.40" y="820.40" font-size="13" fill="#111" text-anchor="middle" font-weight="normal" >pH</text>
<rect x="384.7" y="580.4" width="252.90000000000003" height="220.60000000000002" fill="#fff" stroke="#484848" stroke-width="0.85"/>
<line x1="426.40" y1="580.40" x2="426.40" y2="583.50" stroke="#484848" stroke-width="0.95" />
<line x1="426.40" y1="801.00" x2="426.40" y2="797.90" stroke="#484848" stroke-width="0.95" />
<line x1="468.60" y1="580.40" x2="468.60" y2="583.50" stroke="#484848" stroke-width="0.95" />
<line x1="468.60" y1="801.00" x2="468.60" y2="797.90" stroke="#484848" stroke-width="0.95" />
<line x1="510.80" y1="580.40" x2="510.80" y2="583.50" stroke="#484848" stroke-width="0.95" />
<line x1="510.80" y1="801.00" x2="510.80" y2="797.90" stroke="#484848" stroke-width="0.95" />
<line x1="553.20" y1="580.40" x2="553.20" y2="583.50" stroke="#484848" stroke-width="0.95" />
<line x1="553.20" y1="801.00" x2="553.20" y2="797.90" stroke="#484848" stroke-width="0.95" />
<line x1="595.30" y1="580.40" x2="595.30" y2="583.50" stroke="#484848" stroke-width="0.95" />
<line x1="595.30" y1="801.00" x2="595.30" y2="797.90" stroke="#484848" stroke-width="0.95" />
<line x1="384.70" y1="608.00" x2="387.80" y2="608.00" stroke="#484848" stroke-width="0.95" />
<line x1="637.60" y1="608.00" x2="634.50" y2="608.00" stroke="#484848" stroke-width="0.95" />
<line x1="384.70" y1="635.60" x2="387.80" y2="635.60" stroke="#484848" stroke-width="0.95" />
<line x1="637.60" y1="635.60" x2="634.50" y2="635.60" stroke="#484848" stroke-width="0.95" />
<line x1="384.70" y1="663.20" x2="387.80" y2="663.20" stroke="#484848" stroke-width="0.95" />
<line x1="637.60" y1="663.20" x2="634.50" y2="663.20" stroke="#484848" stroke-width="0.95" />
<line x1="384.70" y1="690.80" x2="387.80" y2="690.80" stroke="#484848" stroke-width="0.95" />
<line x1="637.60" y1="690.80" x2="634.50" y2="690.80" stroke="#484848" stroke-width="0.95" />
<line x1="384.70" y1="718.40" x2="387.80" y2="718.40" stroke="#484848" stroke-width="0.95" />
<line x1="637.60" y1="718.40" x2="634.50" y2="718.40" stroke="#484848" stroke-width="0.95" />
<line x1="384.70" y1="746.00" x2="387.80" y2="746.00" stroke="#484848" stroke-width="0.95" />
<line x1="637.60" y1="746.00" x2="634.50" y2="746.00" stroke="#484848" stroke-width="0.95" />
<line x1="384.70" y1="773.60" x2="387.80" y2="773.60" stroke="#484848" stroke-width="0.95" />
<line x1="637.60" y1="773.60" x2="634.50" y2="773.60" stroke="#484848" stroke-width="0.95" />
<circle cx="456.7" cy="604.7" r="2.6" fill="#3058b0" stroke="#3a3a3a" stroke-width="0.55"/>
<circle cx="468.1" cy="606.2" r="2.6" fill="#202c80" stroke="#3a3a3a" stroke-width="0.55"/>
<circle cx="471.0" cy="613.6" r="2.6" fill="#2c48a8" stroke="#3a3a3a" stroke-width="0.55"/>
<circle cx="446.7" cy="630.8" r="2.6" fill="#3058b0" stroke="#3a3a3a" stroke-width="0.55"/>
<circle cx="450.0" cy="633.3" r="2.6" fill="#30b8f0" stroke="#3a3a3a" stroke-width="0.55"/>
<circle cx="458.6" cy="628.3" r="2.6" fill="#70d0e0" stroke="#3a3a3a" stroke-width="0.55"/>
<circle cx="503.4" cy="637.4" r="2.6" fill="#3060b8" stroke="#3a3a3a" stroke-width="0.55"/>
<circle cx="461.6" cy="643.7" r="2.6" fill="#3890d0" stroke="#3a3a3a" stroke-width="0.55"/>
<circle cx="450.7" cy="649.6" r="2.6" fill="#80c890" stroke="#3a3a3a" stroke-width="0.55"/>
<circle cx="460.9" cy="658.8" r="2.6" fill="#80c890" stroke="#3a3a3a" stroke-width="0.55"/>
<circle cx="479.2" cy="670.5" r="2.6" fill="#70c8b0" stroke="#3a3a3a" stroke-width="0.55"/>
<circle cx="441.0" cy="674.2" r="2.6" fill="#e84020" stroke="#3a3a3a" stroke-width="0.55"/>
<circle cx="499.7" cy="685.0" r="2.6" fill="#70c8a8" stroke="#3a3a3a" stroke-width="0.55"/>
<circle cx="452.4" cy="687.6" r="2.6" fill="#3888d0" stroke="#3a3a3a" stroke-width="0.55"/>
<circle cx="429.6" cy="689.8" r="2.6" fill="#d8d828" stroke="#3a3a3a" stroke-width="0.55"/>
<circle cx="426.4" cy="692.1" r="2.6" fill="#f8e820" stroke="#3a3a3a" stroke-width="0.55"/>
<circle cx="447.2" cy="692.8" r="2.6" fill="#f8e020" stroke="#3a3a3a" stroke-width="0.55"/>
<circle cx="455.7" cy="692.3" r="2.6" fill="#90cc70" stroke="#3a3a3a" stroke-width="0.55"/>
<circle cx="421.5" cy="703.2" r="2.6" fill="#f05820" stroke="#3a3a3a" stroke-width="0.55"/>
<circle cx="419.9" cy="712.9" r="2.6" fill="#e82020" stroke="#3a3a3a" stroke-width="0.55"/>
<circle cx="438.5" cy="710.4" r="2.6" fill="#f07020" stroke="#3a3a3a" stroke-width="0.55"/>
<circle cx="457.2" cy="708.9" r="2.6" fill="#70c8a8" stroke="#3a3a3a" stroke-width="0.55"/>
<circle cx="472.0" cy="707.9" r="2.6" fill="#f07020" stroke="#3a3a3a" stroke-width="0.55"/>
<circle cx="470.1" cy="713.1" r="2.6" fill="#f8a020" stroke="#3a3a3a" stroke-width="0.55"/>
<circle cx="471.8" cy="717.1" r="2.6" fill="#f8e020" stroke="#3a3a3a" stroke-width="0.55"/>
<circle cx="451.2" cy="716.1" r="2.6" fill="#f8b020" stroke="#3a3a3a" stroke-width="0.55"/>
<circle cx="510.6" cy="700.7" r="2.6" fill="#f89020" stroke="#3a3a3a" stroke-width="0.55"/>
<circle cx="500.0" cy="726.9" r="2.6" fill="#f89820" stroke="#3a3a3a" stroke-width="0.55"/>
<circle cx="439.8" cy="730.7" r="2.6" fill="#f07020" stroke="#3a3a3a" stroke-width="0.55"/>
<circle cx="469.6" cy="732.7" r="2.6" fill="#f8a820" stroke="#3a3a3a" stroke-width="0.55"/>
<circle cx="454.4" cy="739.2" r="2.6" fill="#e85820" stroke="#3a3a3a" stroke-width="0.55"/>
<circle cx="460.9" cy="745.9" r="2.6" fill="#e85020" stroke="#3a3a3a" stroke-width="0.55"/>
<circle cx="474.8" cy="750.1" r="2.6" fill="#f07020" stroke="#3a3a3a" stroke-width="0.55"/>
<circle cx="561.3" cy="604.2" r="2.6" fill="#3058b0" stroke="#3a3a3a" stroke-width="0.55"/>
<circle cx="581.3" cy="603.9" r="2.6" fill="#3058b0" stroke="#3a3a3a" stroke-width="0.55"/>
<circle cx="597.5" cy="612.3" r="2.6" fill="#2c48a0" stroke="#3a3a3a" stroke-width="0.55"/>
<circle cx="540.0" cy="621.2" r="2.6" fill="#3058b0" stroke="#3a3a3a" stroke-width="0.55"/>
<circle cx="582.9" cy="646.3" r="2.6" fill="#70d0e0" stroke="#3a3a3a" stroke-width="0.55"/>
<circle cx="517.0" cy="658.4" r="2.6" fill="#88cc80" stroke="#3a3a3a" stroke-width="0.55"/>
<circle cx="570.5" cy="659.8" r="2.6" fill="#80c890" stroke="#3a3a3a" stroke-width="0.55"/>
<circle cx="564.5" cy="663.8" r="2.6" fill="#38a0e0" stroke="#3a3a3a" stroke-width="0.55"/>
<circle cx="543.2" cy="664.4" r="2.6" fill="#202870" stroke="#3a3a3a" stroke-width="0.55"/>
<circle cx="626.7" cy="658.7" r="2.6" fill="#f8d020" stroke="#3a3a3a" stroke-width="0.55"/>
<circle cx="598.6" cy="677.6" r="2.6" fill="#58c8e8" stroke="#3a3a3a" stroke-width="0.55"/>
<circle cx="622.9" cy="680.6" r="2.6" fill="#70d0d8" stroke="#3a3a3a" stroke-width="0.55"/>
<circle cx="536.5" cy="685.4" r="2.6" fill="#3870c0" stroke="#3a3a3a" stroke-width="0.55"/>
<circle cx="562.1" cy="686.3" r="2.6" fill="#78c8a0" stroke="#3a3a3a" stroke-width="0.55"/>
<circle cx="578.3" cy="688.4" r="2.6" fill="#80c890" stroke="#3a3a3a" stroke-width="0.55"/>
<circle cx="625.6" cy="686.5" r="2.6" fill="#a8d050" stroke="#3a3a3a" stroke-width="0.55"/>
<circle cx="629.1" cy="697.1" r="2.6" fill="#c0d838" stroke="#3a3a3a" stroke-width="0.55"/>
<circle cx="612.3" cy="699.0" r="2.6" fill="#f8d820" stroke="#3a3a3a" stroke-width="0.55"/>
<circle cx="562.9" cy="702.4" r="2.6" fill="#f8e820" stroke="#3a3a3a" stroke-width="0.55"/>
<circle cx="609.7" cy="704.5" r="2.6" fill="#f8a020" stroke="#3a3a3a" stroke-width="0.55"/>
<circle cx="582.9" cy="713.6" r="2.6" fill="#e84020" stroke="#3a3a3a" stroke-width="0.55"/>
<circle cx="559.1" cy="715.8" r="2.6" fill="#f8e028" stroke="#3a3a3a" stroke-width="0.55"/>
<circle cx="569.9" cy="729.8" r="2.6" fill="#f89020" stroke="#3a3a3a" stroke-width="0.55"/>
<circle cx="595.6" cy="736.3" r="2.6" fill="#f8a020" stroke="#3a3a3a" stroke-width="0.55"/>
<circle cx="560.0" cy="738.7" r="2.6" fill="#f8a020" stroke="#3a3a3a" stroke-width="0.55"/>
<circle cx="578.6" cy="751.7" r="2.6" fill="#d82028" stroke="#3a3a3a" stroke-width="0.55"/>
<circle cx="590.7" cy="761.4" r="2.6" fill="#d02028" stroke="#3a3a3a" stroke-width="0.55"/>
<circle cx="565.6" cy="777.4" r="2.6" fill="#3060b8" stroke="#3a3a3a" stroke-width="0.55"/>
<circle cx="576.2" cy="793.8" r="2.6" fill="#f08020" stroke="#3a3a3a" stroke-width="0.55"/>
<text x="382.40" y="611.80" font-size="13.3" fill="#4d4d4d" text-anchor="end" font-weight="normal" >0.3</text>
<text x="382.40" y="639.40" font-size="13.3" fill="#4d4d4d" text-anchor="end" font-weight="normal" >0.2</text>
<text x="382.40" y="667.00" font-size="13.3" fill="#4d4d4d" text-anchor="end" font-weight="normal" >0.1</text>
<text x="382.40" y="694.60" font-size="13.3" fill="#4d4d4d" text-anchor="end" font-weight="normal" >0</text>
<text x="382.40" y="722.20" font-size="13.3" fill="#4d4d4d" text-anchor="end" font-weight="normal" >-0.1</text>
<text x="382.40" y="749.80" font-size="13.3" fill="#4d4d4d" text-anchor="end" font-weight="normal" >-0.2</text>
<text x="382.40" y="777.40" font-size="13.3" fill="#4d4d4d" text-anchor="end" font-weight="normal" >-0.3</text>
<text x="428.10" y="815.60" font-size="13.0" fill="#4d4d4d" text-anchor="middle" font-weight="normal" >-0.4</text>
<text x="470.80" y="815.60" font-size="13.0" fill="#4d4d4d" text-anchor="middle" font-weight="normal" >-0.2</text>
<text x="511.30" y="815.60" font-size="13.0" fill="#4d4d4d" text-anchor="middle" font-weight="normal" >0</text>
<text x="555.40" y="815.60" font-size="13.0" fill="#4d4d4d" text-anchor="middle" font-weight="normal" >0.2</text>
<text x="597.80" y="815.60" font-size="13.0" fill="#4d4d4d" text-anchor="middle" font-weight="normal" >0.4</text>
<text x="515.50" y="829.30" font-size="13.3" fill="#4d4d4d" text-anchor="middle" font-weight="normal" >NMDS Axis 1</text>
<text x="359.00" y="685.00" font-size="13.1" fill="#4d4d4d" text-anchor="middle" font-weight="normal" transform="rotate(-90 359.00 685.00)" >NMDS Axis 2</text>
<text x="354.60" y="582.80" font-size="19.5" fill="#111" text-anchor="start" font-weight="bold" >f</text>
<linearGradient id="gf" x1="0" y1="1" x2="0" y2="0">
<stop offset="0.000" stop-color="#272b7c"/>
<stop offset="0.067" stop-color="#2c3c98"/>
<stop offset="0.140" stop-color="#3054a8"/>
<stop offset="0.215" stop-color="#3868b4"/>
<stop offset="0.266" stop-color="#3a88cc"/>
<stop offset="0.318" stop-color="#2cbcf0"/>
<stop offset="0.370" stop-color="#48c4dc"/>
<stop offset="0.436" stop-color="#68c4b4"/>
<stop offset="0.488" stop-color="#86c880"/>
<stop offset="0.515" stop-color="#94ca68"/>
<stop offset="0.550" stop-color="#b0d048"/>
<stop offset="0.595" stop-color="#d8dc2c"/>
<stop offset="0.640" stop-color="#fdee12"/>
<stop offset="0.685" stop-color="#fcc816"/>
<stop offset="0.730" stop-color="#f4a01e"/>
<stop offset="0.775" stop-color="#f07820"/>
<stop offset="0.820" stop-color="#ee4a23"/>
<stop offset="0.865" stop-color="#ec2027"/>
<stop offset="0.910" stop-color="#d62026"/>
<stop offset="0.955" stop-color="#a01c20"/>
<stop offset="1.000" stop-color="#7a1416"/>
</linearGradient>
<rect x="650.6" y="580.2" width="10.5" height="221.5999999999999" fill="url(#gf)" stroke="#4a4a4a" stroke-width="0.7"/>
<line x1="661.10" y1="584.00" x2="659.00" y2="584.00" stroke="#4a4a4a" stroke-width="0.7" />
<text x="663.90" y="587.90" font-size="13.2" fill="#4d4d4d" text-anchor="start" font-weight="normal" >95</text>
<line x1="661.10" y1="616.70" x2="659.00" y2="616.70" stroke="#4a4a4a" stroke-width="0.7" />
<text x="663.90" y="620.60" font-size="13.2" fill="#4d4d4d" text-anchor="start" font-weight="normal" >90</text>
<line x1="661.10" y1="649.40" x2="659.00" y2="649.40" stroke="#4a4a4a" stroke-width="0.7" />
<text x="663.90" y="653.30" font-size="13.2" fill="#4d4d4d" text-anchor="start" font-weight="normal" >85</text>
<line x1="661.10" y1="682.10" x2="659.00" y2="682.10" stroke="#4a4a4a" stroke-width="0.7" />
<text x="663.90" y="686.00" font-size="13.2" fill="#4d4d4d" text-anchor="start" font-weight="normal" >80</text>
<line x1="661.10" y1="714.90" x2="659.00" y2="714.90" stroke="#4a4a4a" stroke-width="0.7" />
<text x="663.90" y="718.80" font-size="13.2" fill="#4d4d4d" text-anchor="start" font-weight="normal" >75</text>
<line x1="661.10" y1="747.60" x2="659.00" y2="747.60" stroke="#4a4a4a" stroke-width="0.7" />
<text x="663.90" y="751.50" font-size="13.2" fill="#4d4d4d" text-anchor="start" font-weight="normal" >70</text>
<line x1="661.10" y1="780.30" x2="659.00" y2="780.30" stroke="#4a4a4a" stroke-width="0.7" />
<text x="663.90" y="784.20" font-size="13.2" fill="#4d4d4d" text-anchor="start" font-weight="normal" >65</text>
<text x="656.4" y="820.0" font-size="13" fill="#111">T(<tspan font-size="7.5" dy="-3.2">o</tspan><tspan dy="3.2">C)</tspan></text>
</svg>
</body></html>
